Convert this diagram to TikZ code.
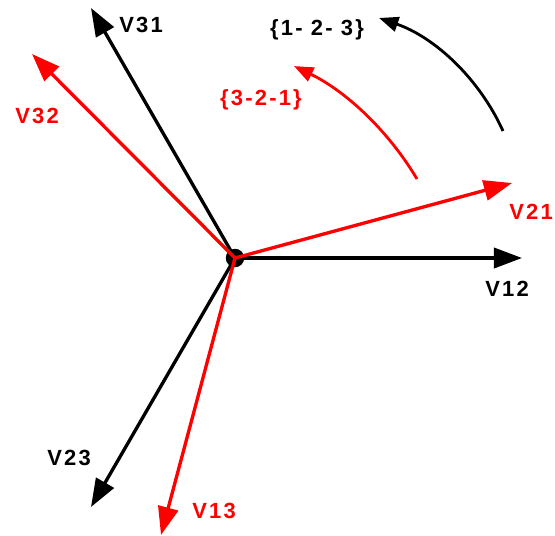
\documentclass[tikz,border=0pt]{standalone}
\usepackage{fontspec}
\setmainfont{Liberation Sans}
\newfontfamily\lblfont[LetterSpace=10]{Liberation Sans Bold}
\usepackage{tikz}
\usetikzlibrary{arrows.meta}

\begin{document}
\begin{tikzpicture}[x=0.02cm, y=-0.02cm,
  vec/.style={line width=1.9pt, -{Triangle[length=16pt,width=11.5pt]}},
  rot/.style={line width=1.6pt, -{Triangle[length=11pt,width=8.5pt]}},
  lbl/.style={font=\lblfont\fontsize{12.5}{14}\selectfont, inner sep=0pt},
  dot/.style={circle, fill=black, inner sep=0pt, minimum size=10.5pt}
]
\useasboundingbox (0,0) rectangle (555,535);
% centre and vector tips
\coordinate (O) at (235,258);
\coordinate (t12) at (522,258);
\coordinate (t31) at (91,8);
\coordinate (t23) at (91,507);
\coordinate (t21) at (512,183);
\coordinate (t32) at (32,54);
\coordinate (t13) at (161,535);
% black system
\draw[vec] (O) -- (t12);
\draw[vec] (O) -- (t31);
\draw[vec] (O) -- (t23);
\node[dot] (c) at (O) {};
% red system
\draw[vec,red] (O) -- (t21);
\draw[vec,red] (O) -- (t32);
\draw[vec,red] (O) -- (t13);
% labels
\node[lbl] (l12) at (507,289) {V12};
\node[lbl] (l31) at (141,25) {V31};
\node[lbl] (l23) at (69,458) {V23};
\node[lbl,red] (l21) at (531,212) {V21};
\node[lbl,red] (l32) at (37,116) {V32};
\node[lbl,red] (l13) at (214,511) {V13};
% sense of rotation
\coordinate (a1) at (503,131);
\coordinate (r1) at (417,179);
\draw[rot] (a1) arc[start angle=-24.3, end angle=-71, radius=211.6];
\draw[rot,red] (r1) arc[start angle=-30.7, end angle=-64.2, radius=289.7];
\node[lbl] (s123) at (317,30) {\{1- 2- 3\}};
\node[lbl,red] (s321) at (261,100) {\{3-2-1\}};
\end{tikzpicture}
\end{document}
